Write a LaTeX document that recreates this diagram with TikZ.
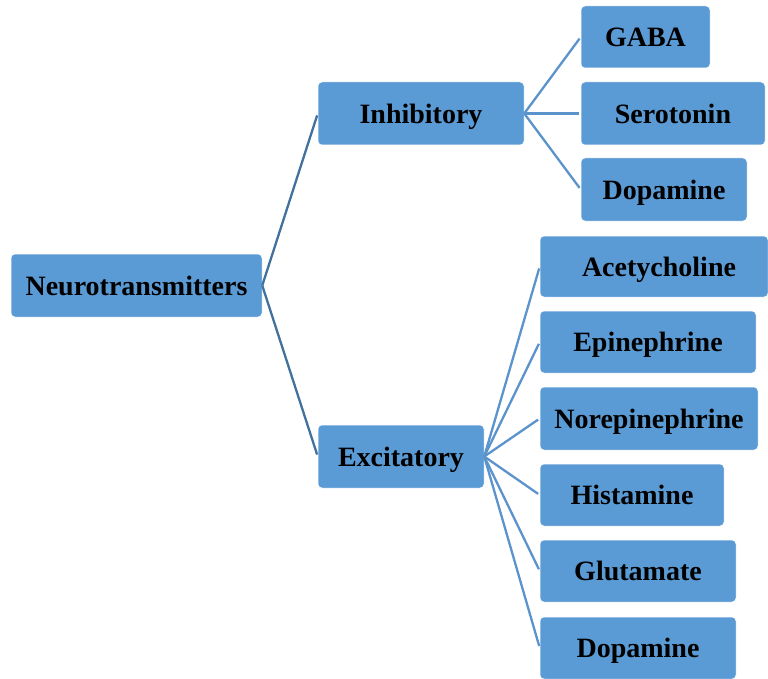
\documentclass[tikz,border=0pt]{standalone}
\usepackage{fontspec}
\setmainfont{Liberation Serif}
\definecolor{boxfill}{HTML}{5B9BD5}
\definecolor{linkdark}{HTML}{41719C}
\definecolor{linklight}{HTML}{5B93CC}
\begin{document}
\begin{tikzpicture}[x=1pt,y=-1pt,
	box/.style={rectangle, rounded corners=4pt, fill=boxfill, draw=white, line width=0.5pt,
		minimum height=63pt, inner sep=0pt, text depth=0pt, font=\fontsize{28}{32}\selectfont\bfseries},
	link/.style={line width=2.3pt, linklight, shorten >=2pt}]

	\useasboundingbox (0,0) rectangle (768,679);

	\node (root) [box, minimum width=251pt] at (136.5, 285.5) {Neurotransmitters};
	\node (inh) [box, minimum width=206pt] at (421, 113.5) {Inhibitory};
	\node (exc) [box, minimum width=166pt] at (401, 456.5) {Excitatory};

	\node (gaba) [box, minimum width=129pt, minimum height=62pt] at (645.5, 37) {GABA};
	\node (sero) [box, minimum width=184pt] at (673, 113.5) {Serotonin};
	\node (dopa1) [box, minimum width=166pt] at (664, 189.5) {Dopamine};

	\node (acet) [box, minimum width=228pt, minimum height=61pt] at (654, 266.5) {\hspace*{10pt}Acetycholine};
	\node (epi) [box, minimum width=216pt, minimum height=62pt] at (648, 342) {Epinephrine};
	\node (nor) [box, minimum width=218pt] at (649, 418.5) {Norepinephrine};
	\node (hist) [box, minimum width=184pt, minimum height=62pt] at (632, 495) {Histamine};
	\node (glut) [box, minimum width=196pt, minimum height=62pt] at (638, 571) {Glutamate};
	\node (dopa2) [box, minimum width=196pt, minimum height=62pt] at (638, 648) {Dopamine};

	\path[link]
	(root.east) edge[linkdark] (inh.west)
	(root.east) edge[linkdark] (exc.west)
	(inh.east) edge (gaba.west)
	(inh.east) edge (sero.west)
	(inh.east) edge (dopa1.west)
	(exc.east) edge (acet.west)
	(exc.east) edge (epi.west)
	(exc.east) edge (nor.west)
	(exc.east) edge (hist.west)
	(exc.east) edge (glut.west)
	(exc.east) edge (dopa2.west);

\end{tikzpicture}
\end{document}
